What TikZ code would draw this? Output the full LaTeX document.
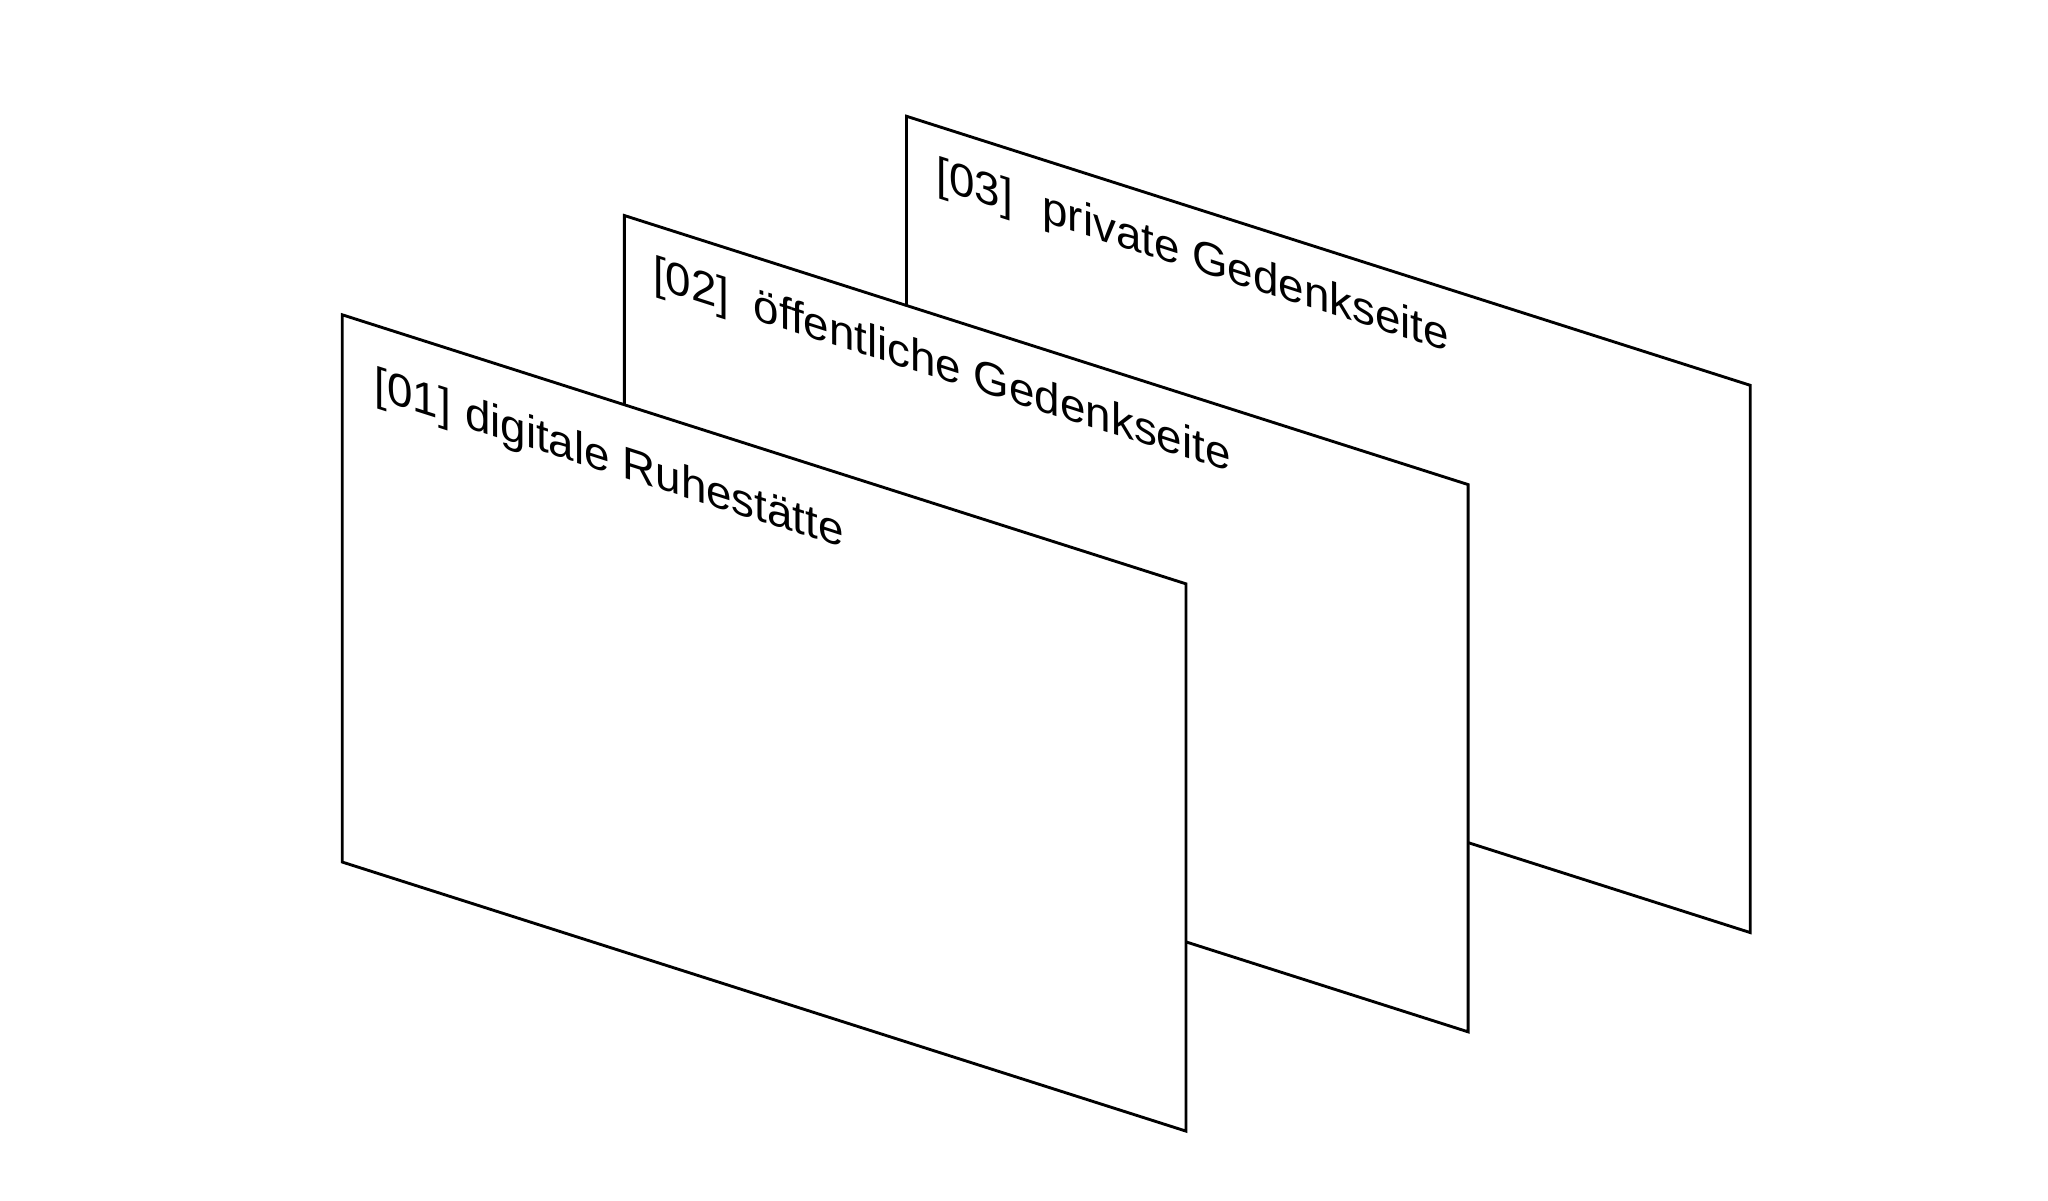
\documentclass[tikz,border=0pt]{standalone}
\usepackage{fontspec}
\setmainfont{Liberation Sans}
\begin{document}
\begin{tikzpicture}[x=1pt,y=1pt,
  panel/.style={draw=black,fill=white,line width=2.2pt,line join=miter},
  label/.style={anchor=base west,inner sep=0pt,outer sep=0pt,yslant=-0.319,
    font=\fontsize{35}{40}\selectfont,text=black}]
\useasboundingbox (0,0) rectangle (1568,-919.5);
% panel 3 (back)
\filldraw[panel] (694,-89) -- (1340,-295) -- (1340,-714) -- (694,-508) -- cycle;
\node[label] (t3) at (717,-144) {[03]\hspace{13pt} private Gedenkseite};
% panel 2
\filldraw[panel] (478,-165) -- (1124,-371) -- (1124,-790) -- (478,-584) -- cycle;
\node[label] (t2) at (500,-220) {[02]\hspace{9pt} öffentliche Gedenkseite};
% panel 1 (front)
\filldraw[panel] (262,-241) -- (908,-447) -- (908,-866) -- (262,-660) -- cycle;
\node[label] (t1) at (287,-305) {[01]\hspace{1pt} digitale Ruhestätte};
\end{tikzpicture}
\end{document}
